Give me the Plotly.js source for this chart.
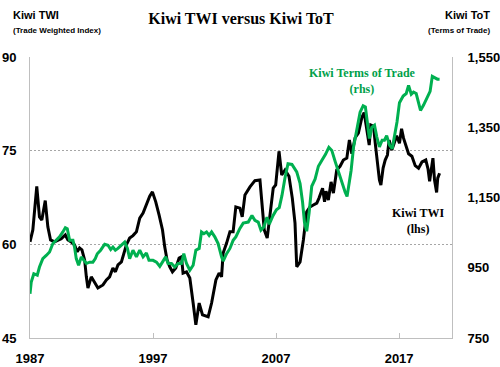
<!DOCTYPE html>
<html>
<head>
<meta charset="utf-8">
<script src="https://cdn.plot.ly/plotly-3.0.1.min.js"></script>
<style>html,body{margin:0;padding:0;background:#fff;}#chart{width:500px;height:367px;}</style>
</head>
<body>
<div id="chart"></div>
<script>
// Kiwi TWI (lhs), decimal year and index value
const twiYears = [1987.0,1987.23,1987.55,1987.77,1987.96,1988.24,1988.45,1988.67,1989.0,1989.26,1989.54,1989.87,1990.08,1990.35,1990.62,1990.84,1991.03,1991.22,1991.44,1991.58,1991.71,1991.98,1992.25,1992.52,1992.93,1993.21,1993.47,1993.74,1993.94,1994.15,1994.43,1994.64,1994.83,1995.1,1995.37,1995.65,1995.92,1996.19,1996.46,1996.73,1996.95,1997.22,1997.49,1997.77,1997.95,1998.14,1998.36,1998.58,1998.85,1999.12,1999.31,1999.44,1999.72,1999.99,2000.26,2000.48,2000.75,2001.02,2001.48,2001.76,2002.11,2002.37,2002.57,2002.7,2002.98,2003.25,2003.51,2003.73,2004.06,2004.25,2004.47,2004.88,2005.28,2005.69,2005.83,2006.04,2006.28,2006.5,2006.77,2006.97,2007.24,2007.46,2007.73,2008.05,2008.32,2008.54,2008.68,2008.95,2009.22,2009.49,2009.76,2010.03,2010.31,2010.49,2010.78,2010.94,2011.06,2011.25,2011.47,2011.66,2011.93,2012.2,2012.47,2012.75,2012.96,2013.16,2013.43,2013.69,2013.97,2014.16,2014.38,2014.57,2014.7,2014.92,2015.09,2015.26,2015.4,2015.52,2015.7,2015.87,2016.05,2016.19,2016.41,2016.6,2016.8,2017.03,2017.2,2017.36,2017.58,2017.77,2018.04,2018.31,2018.58,2018.86,2019.17,2019.35,2019.48,2019.61,2019.75,2019.88,2020.05,2020.14,2020.29];
const twiValues = [60.4,62.3,69.3,64.4,63.9,67.0,62.8,60.7,60.4,60.6,60.9,61.5,60.7,60.4,59.9,58.8,59.4,59.1,57.5,54.8,53.0,54.8,53.8,53.0,53.5,54.3,54.8,56.2,55.6,56.7,57.2,58.8,59.9,61.0,61.4,62.0,64.2,65.0,66.3,67.7,68.4,66.8,64.7,62.3,59.6,57.5,56.4,55.6,56.2,57.8,58.0,55.4,55.6,54.6,50.6,47.1,50.6,48.7,48.4,50.6,54.3,55.4,54.8,58.6,60.2,62.0,62.0,66.0,65.8,64.4,67.9,69.2,70.2,70.3,67.1,62.3,61.0,65.0,69.0,69.5,74.9,71.1,71.9,70.9,67.4,63.4,56.4,57.2,60.7,65.2,66.0,66.3,66.6,67.4,69.0,66.8,68.5,67.1,70.0,68.2,71.9,72.5,73.5,73.8,76.7,74.5,77.1,77.8,80.3,81.1,78.6,75.9,79.1,78.9,75.7,73.0,70.3,69.5,72.2,73.5,74.3,76.7,75.1,76.2,77.4,76.2,78.5,77.0,75.7,74.5,74.1,72.6,72.2,73.2,73.5,72.1,70.1,71.9,73.8,70.3,68.3,70.6,71.4];

// Kiwi Terms of Trade (rhs), decimal year and index value
const totYears = [1987.0,1987.1,1987.31,1987.59,1987.77,1988.04,1988.32,1988.59,1988.86,1989.13,1989.4,1989.67,1989.87,1990.03,1990.22,1990.49,1990.62,1990.76,1990.95,1991.17,1991.38,1991.58,1991.85,1992.11,1992.31,1992.47,1992.74,1993.07,1993.34,1993.56,1993.74,1993.94,1994.15,1994.43,1994.7,1994.92,1995.1,1995.37,1995.65,1995.92,1996.19,1996.46,1996.67,1997.0,1997.28,1997.55,1997.81,1998.03,1998.22,1998.5,1998.77,1999.04,1999.31,1999.5,1999.72,1999.99,2000.26,2000.48,2000.75,2000.94,2001.13,2001.35,2001.56,2001.76,2002.02,2002.29,2002.57,2002.7,2002.98,2003.25,2003.51,2003.73,2004.06,2004.33,2004.74,2005.04,2005.28,2005.55,2005.77,2006.01,2006.26,2006.45,2006.75,2007.03,2007.26,2007.48,2007.72,2007.97,2008.29,2008.68,2008.95,2009.15,2009.31,2009.49,2009.68,2009.9,2010.17,2010.44,2010.74,2011.02,2011.29,2011.53,2011.8,2012.07,2012.34,2012.61,2012.77,2012.96,2013.1,2013.3,2013.56,2013.83,2014.08,2014.26,2014.44,2014.59,2014.78,2015.0,2015.19,2015.4,2015.62,2015.81,2015.99,2016.22,2016.44,2016.68,2016.83,2017.03,2017.33,2017.58,2017.77,2017.99,2018.17,2018.39,2018.58,2018.74,2018.99,2019.26,2019.52,2019.7,2019.9,2020.11,2020.29];
const totValues = [876,909,933,929,952,976,985,995,1019,1028,1038,1052,1064,1061,1028,1028,1009,976,957,981,971,962,966,966,976,990,1000,1017,1014,1002,1009,1000,1005,1014,1023,1005,976,1000,981,1000,981,992,971,971,966,954,971,981,962,962,952,962,962,990,962,943,957,1000,1005,1052,1047,1052,1042,1052,1038,1019,981,969,990,1005,1028,1038,1062,1077,1080,1099,1085,1080,1057,1066,1094,1074,1098,1115,1121,1156,1205,1246,1244,1223,1190,1138,1079,1054,1105,1182,1202,1239,1257,1273,1293,1284,1253,1222,1192,1166,1153,1190,1227,1294,1344,1393,1411,1408,1358,1318,1350,1356,1322,1294,1313,1313,1326,1299,1289,1332,1365,1420,1439,1446,1469,1444,1450,1446,1422,1398,1413,1432,1452,1495,1491,1487,1487];

const xTickVals = [1987, 1997, 2007, 2017];
const xTickText = ['1987', '1997', '2007', '2017'];
const yLeftTicks = [45, 60, 75, 90];
const yRightTicks = [750, 950, 1150, 1350, 1550];
const yRightText = ['750', '950', '1,150', '1,350', '1,550'];

const green = '#00B050';
const tickFont = {family: 'Liberation Sans, Arial, sans-serif', size: 13, color: '#000', weight: 'bold'};

const traces = [
  {x: twiYears, y: twiValues, type: 'scatter', mode: 'lines', name: 'Kiwi TWI',
   line: {color: '#000000', width: 3}, yaxis: 'y', hoverinfo: 'skip'},
  {x: totYears, y: totValues, type: 'scatter', mode: 'lines', name: 'Kiwi Terms of Trade',
   line: {color: green, width: 3}, yaxis: 'y2', hoverinfo: 'skip'}
];

const layout = {
  width: 500, height: 367,
  margin: {l: 30, r: 48, t: 57, b: 29},
  paper_bgcolor: '#fff', plot_bgcolor: '#fff',
  showlegend: false,
  title: {text: 'Kiwi TWI versus Kiwi ToT', font: {family: 'Liberation Serif, serif', size: 16, color: '#000', weight: 'bold'},
          x: 0.5, xanchor: 'center', y: 0.95, yanchor: 'middle', xref: 'paper'},
  xaxis: {range: [1987, 2021.3], tickvals: xTickVals, ticktext: xTickText, ticks: 'inside', ticklen: 5,
          tickcolor: '#bfbfbf', showline: true, linecolor: '#bfbfbf', linewidth: 1, showgrid: false, zeroline: false,
          tickfont: tickFont, ticklabelstandoff: 8, fixedrange: true},
  yaxis: {range: [45, 90], tickvals: yLeftTicks, ticks: '', showline: true, linecolor: '#bfbfbf', linewidth: 1,
          showgrid: true, gridcolor: '#a6a6a6', griddash: '2px,2px', gridwidth: 1, zeroline: false,
          tickfont: tickFont, ticklabelstandoff: 10},
  yaxis2: {range: [750, 1550], overlaying: 'y', side: 'right', tickvals: yRightTicks, ticktext: yRightText, ticks: '',
           showline: true, linecolor: '#bfbfbf', linewidth: 1, showgrid: false, zeroline: false,
           tickfont: tickFont, ticklabelstandoff: 12},
  annotations: [
    {text: 'Kiwi TWI', xref: 'paper', yref: 'paper', x: -0.045, y: 1.15, xanchor: 'left', yanchor: 'middle', showarrow: false,
     font: {family: 'Liberation Sans, Arial, sans-serif', size: 11, color: '#000', weight: 'bold'}},
    {text: '(Trade Weighted Index)', xref: 'paper', yref: 'paper', x: -0.045, y: 1.095, xanchor: 'left', yanchor: 'middle', showarrow: false,
     font: {family: 'Liberation Sans, Arial, sans-serif', size: 8, color: '#000', weight: 'bold'}},
    {text: 'Kiwi ToT', xref: 'paper', yref: 'paper', x: 1.095, y: 1.15, xanchor: 'right', yanchor: 'middle', showarrow: false,
     font: {family: 'Liberation Sans, Arial, sans-serif', size: 11, color: '#000', weight: 'bold'}},
    {text: '(Terms of Trade)', xref: 'paper', yref: 'paper', x: 1.095, y: 1.095, xanchor: 'right', yanchor: 'middle', showarrow: false,
     font: {family: 'Liberation Sans, Arial, sans-serif', size: 8, color: '#000', weight: 'bold'}},
    {text: 'Kiwi Terms of Trade<br>(rhs)', xref: 'paper', yref: 'paper', x: 0.787, y: 0.915, xanchor: 'center', yanchor: 'middle', showarrow: false,
     align: 'center', font: {family: 'Liberation Serif, serif', size: 12, color: '#00A04A', weight: 'bold'}},
    {text: 'Kiwi TWI<br>(lhs)', xref: 'paper', yref: 'paper', x: 0.92, y: 0.415, xanchor: 'center', yanchor: 'middle', showarrow: false,
     align: 'center', font: {family: 'Liberation Serif, serif', size: 12, color: '#000', weight: 'bold'}}
  ]
};

Plotly.newPlot('chart', traces, layout, {staticPlot: true, displayModeBar: false});
</script>
</body>
</html>
